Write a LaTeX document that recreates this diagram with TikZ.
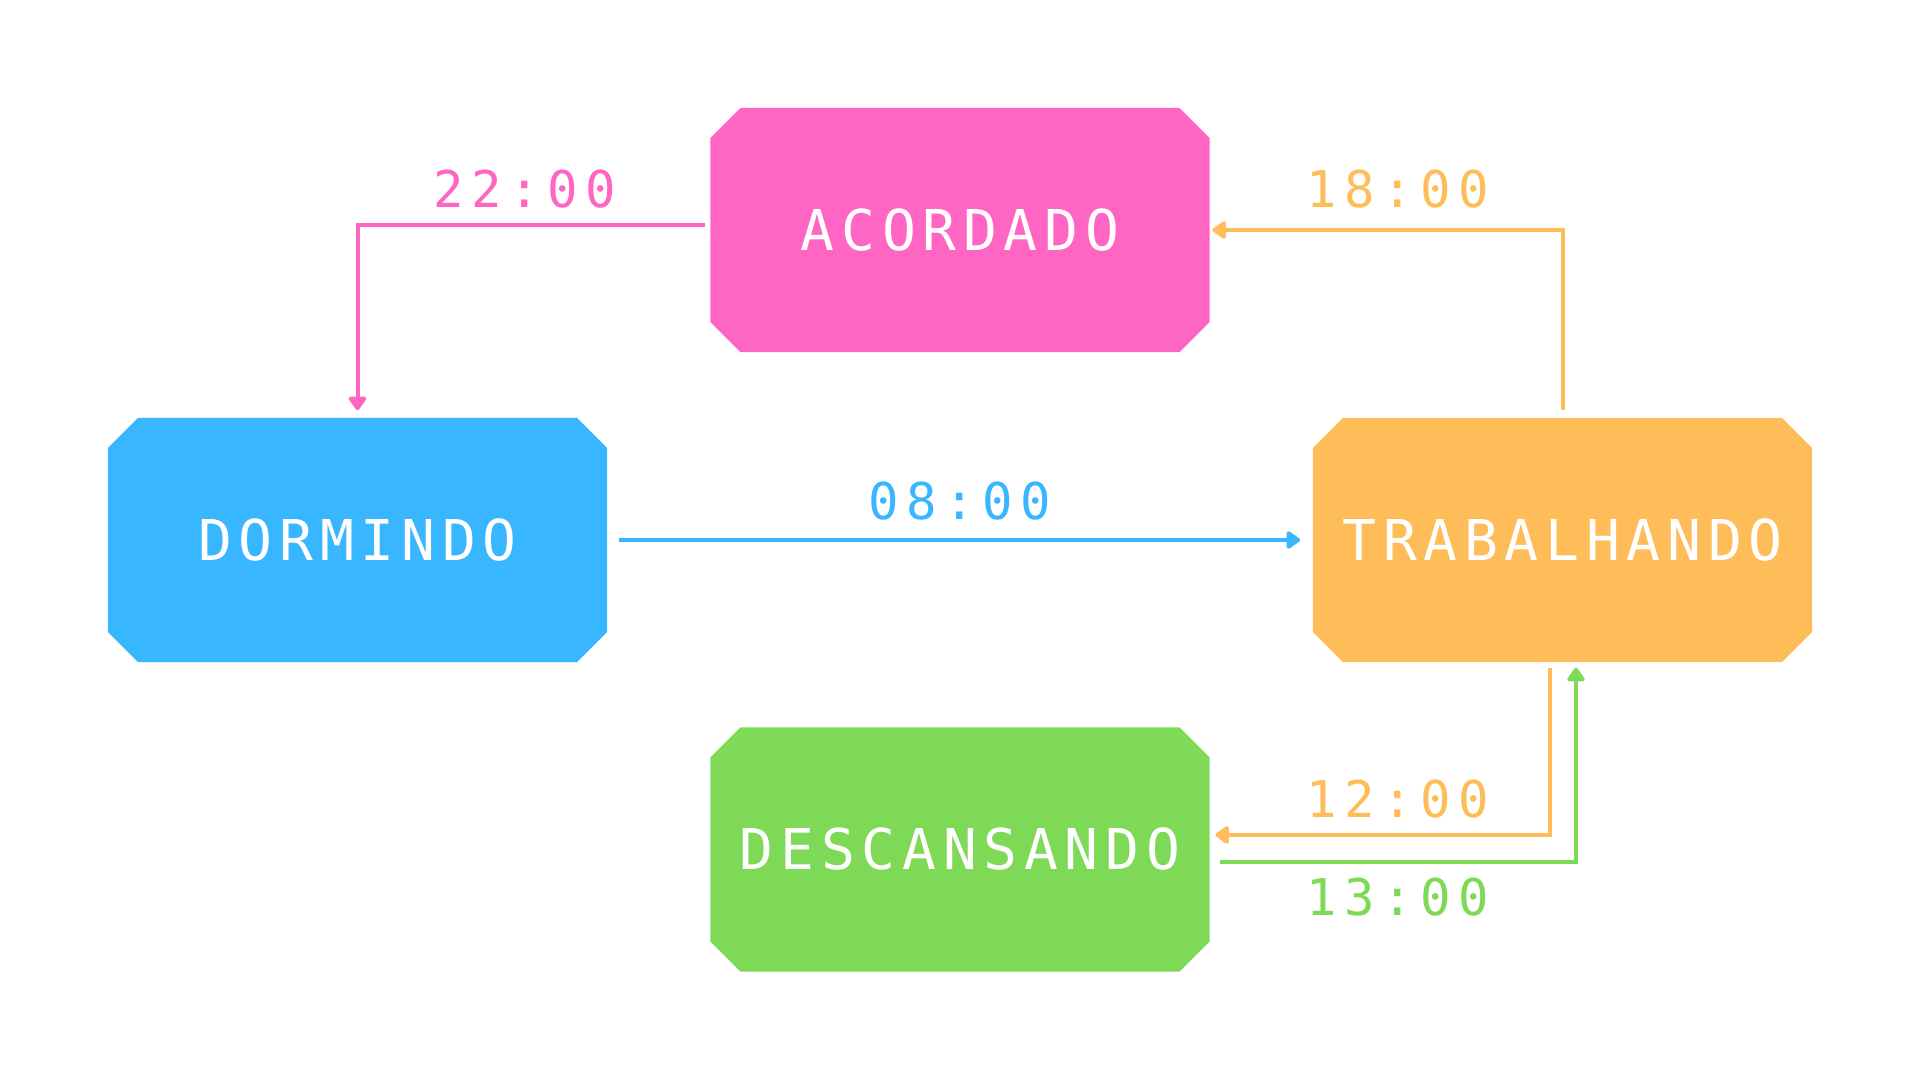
\documentclass[tikz,border=0pt]{standalone}
\usepackage{fontspec}
\usetikzlibrary{shapes.misc, arrows.meta}

\newfontfamily\boxfont{DejaVu Sans Mono}[LetterSpace=12]
\newfontfamily\hourfont{DejaVu Sans Mono}[LetterSpace=15]

\definecolor{pinkc}{HTML}{FF66C4}
\definecolor{bluec}{HTML}{38B6FF}
\definecolor{orangec}{HTML}{FFBD59}
\definecolor{greenc}{HTML}{7ED957}

\tikzset{
    state/.style={chamfered rectangle, chamfered rectangle xsep=0.15cm, chamfered rectangle ysep=0.15cm,
        minimum width=4.99cm, minimum height=2.44cm, inner sep=0pt, text=white,
        font=\boxfont\fontsize{16}{16}\selectfont},
    hour/.style={anchor=base, inner sep=0pt, font=\hourfont\fontsize{14.4}{14.4}\selectfont},
    link/.style={line width=0.04cm, -{Triangle[round, width=0.2cm, length=0.15cm]}}
}

\begin{document}
\begin{tikzpicture}[x=0.01cm, y=-0.01cm]
        \useasboundingbox (0, 0) rectangle (1920, 1080);

        \coordinate (N) at (960, 230);
        \coordinate (W) at (357.5, 540);
        \coordinate (E) at (1562.5, 540);
        \coordinate (S) at (960, 849.5);

        % States
        \node[state, fill=pinkc] (acordado) at (N) {ACORDADO};
        \node[state, fill=bluec] (dormindo) at (W) {DORMINDO};
        \node[state, fill=orangec] (trabalhando) at (E) {TRABALHANDO};
        \node[state, fill=greenc] (descansando) at (S) {DESCANSANDO};

        % 22:00
        \draw[link, pinkc] ([shift={(-0.05cm, 0.05cm)}]acordado.west) -| ([yshift=0.07cm]dormindo.north);
        \node[hour, text=pinkc] (h22) at (525, 208) {22:00};

        % 08:00
        \draw[link, bluec] ([xshift=0.11cm]dormindo.east) -- ([xshift=-0.12cm]trabalhando.west);
        \node[hour, text=bluec] (h08) at (960, 520) {08:00};

        % 12:00 and 13:00
        \draw[link, orangec] ([shift={(-0.125cm, -0.05cm)}]trabalhando.south) |- ([shift={(0.05cm, 0.145cm)}]descansando.east);
        \node[hour, text=orangec] (h12) at (1398, 818) {12:00};
        \draw[link, greenc] ([shift={(0.1cm, -0.125cm)}]descansando.east) -| ([shift={(0.135cm, -0.05cm)}]trabalhando.south);
        \node[hour, text=greenc] (h13) at (1398, 916) {13:00};

        % 18:00
        \draw[link, orangec] ([yshift=0.07cm]trabalhando.north) |- ([xshift=0.02cm]acordado.east);
        \node[hour, text=orangec] (h18) at (1398, 208) {18:00};

    \end{tikzpicture}
\end{document}
